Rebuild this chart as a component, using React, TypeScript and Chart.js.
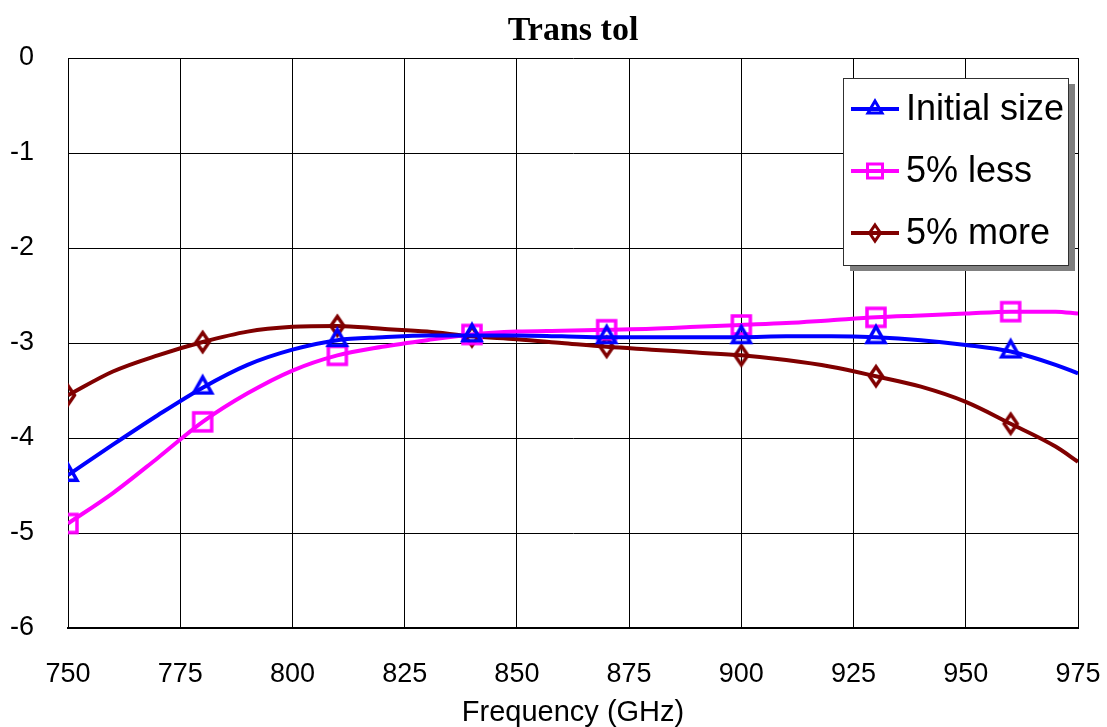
import React, { useEffect, useRef } from 'react';
import { Chart, registerables } from 'chart.js';

Chart.register(...registerables);

// ---- data ----
const chartTitle = 'Trans tol';
const xAxisTitle = 'Frequency (GHz)';
const frequencies = [750, 760, 770, 780, 790, 800, 810, 820, 830, 840, 850, 860, 870, 880, 890, 900, 910, 920, 930, 940, 950, 960, 970, 975];
const markerFrequencies = [750, 780, 810, 840, 870, 900, 930, 960];
const initialSize = [-4.39, -4.07, -3.76, -3.47, -3.23, -3.07, -2.97, -2.94, -2.92, -2.92, -2.92, -2.93, -2.94, -2.94, -2.94, -2.94, -2.93, -2.93, -2.94, -2.97, -3.02, -3.09, -3.23, -3.32];
const fiveLess = [-4.90, -4.58, -4.21, -3.83, -3.53, -3.29, -3.13, -3.04, -2.97, -2.91, -2.88, -2.87, -2.86, -2.85, -2.83, -2.81, -2.79, -2.76, -2.73, -2.71, -2.69, -2.67, -2.67, -2.69];
const fiveMore = [-3.55, -3.30, -3.13, -2.99, -2.88, -2.83, -2.82, -2.85, -2.88, -2.93, -2.96, -3.00, -3.04, -3.07, -3.10, -3.13, -3.18, -3.25, -3.35, -3.46, -3.62, -3.85, -4.09, -4.25];
const seriesNames = ['Initial size', '5% less', '5% more'];
const seriesValues = [initialSize, fiveLess, fiveMore];
const seriesColors = ['#0000ff', '#ff00ff', '#800000'];
const seriesShapes = ['triangle', 'square', 'diamond'];
const xMin = 750;
const xMax = 975;
const xStep = 25;
const yMin = -6;
const yMax = 0;
const yStep = 1;

type Shape = 'triangle' | 'square' | 'diamond';

function makeMarker(shape: Shape, color: string, w: number, h: number, lw: number): HTMLCanvasElement {
  const pad = Math.ceil(lw) + 2;
  const c = document.createElement('canvas');
  let W = Math.ceil(w + 2 * pad);
  let H: number;
  if (shape === 'triangle') {
    H = Math.ceil((4 * h) / 3 + 2 * pad);
  } else {
    H = Math.ceil(h + 2 * pad);
  }
  if (W % 2) W++;
  if (H % 2) H++;
  c.width = W;
  c.height = H;
  const ctx = c.getContext('2d')!;
  ctx.strokeStyle = color;
  ctx.lineWidth = lw;
  ctx.lineJoin = 'miter';
  const cx = W / 2;
  const cy = H / 2;
  ctx.beginPath();
  if (shape === 'triangle') {
    const apex = cy - (2 * h) / 3;
    const base = cy + h / 3;
    ctx.moveTo(cx, apex);
    ctx.lineTo(cx + w / 2, base);
    ctx.lineTo(cx - w / 2, base);
    ctx.closePath();
  } else if (shape === 'square') {
    ctx.rect(cx - w / 2, cy - h / 2, w, h);
  } else {
    ctx.moveTo(cx, cy - h / 2);
    ctx.lineTo(cx + w / 2, cy);
    ctx.lineTo(cx, cy + h / 2);
    ctx.lineTo(cx - w / 2, cy);
    ctx.closePath();
  }
  ctx.stroke();
  return c;
}

const plotMarkerSize: Record<Shape, [number, number]> = {
  triangle: [18, 16],
  square: [18, 18],
  diamond: [13, 19],
};
const legendMarkerSize: Record<Shape, [number, number]> = {
  triangle: [14, 12],
  square: [15, 14],
  diamond: [11, 16],
};

export default function App() {
  const canvasRef = useRef<HTMLCanvasElement | null>(null);

  useEffect(() => {
    document.body.style.margin = '0';
    const canvas = canvasRef.current;
    if (!canvas) return;

    const plotMarkers = seriesShapes.map((s, i) =>
      makeMarker(s as Shape, seriesColors[i], plotMarkerSize[s as Shape][0], plotMarkerSize[s as Shape][1], 3.5)
    );
    const legendMarkers = seriesShapes.map((s, i) =>
      makeMarker(s as Shape, seriesColors[i], legendMarkerSize[s as Shape][0], legendMarkerSize[s as Shape][1], 3)
    );

    const decorPlugin = {
      id: 'decor',
      afterDraw(chart: any) {
        const ctx = chart.ctx as CanvasRenderingContext2D;
        const area = chart.chartArea;
        ctx.save();
        // Title
        ctx.fillStyle = '#000';
        ctx.font = 'bold 34px "Liberation Serif", "Times New Roman", serif';
        ctx.textAlign = 'center';
        ctx.textBaseline = 'alphabetic';
        ctx.fillText(chartTitle, (area.left + area.right) / 2, 40);
        // X axis title
        ctx.font = '29px "Liberation Sans", Arial, sans-serif';
        ctx.fillText(xAxisTitle, (area.left + area.right) / 2, 721);

        // Legend
        const bx = 843;
        const by = 78;
        const bw = 225;
        const bh = 187;
        ctx.fillStyle = '#808080';
        ctx.fillRect(bx + 7, by + 6, bw, bh);
        ctx.fillStyle = '#ffffff';
        ctx.fillRect(bx, by, bw, bh);
        ctx.strokeStyle = '#303030';
        ctx.lineWidth = 1;
        ctx.strokeRect(bx + 0.5, by + 0.5, bw, bh);
        const rows = [109, 171, 233];
        seriesNames.forEach((name, i) => {
          const y = rows[i];
          ctx.strokeStyle = seriesColors[i];
          ctx.lineWidth = 4;
          ctx.beginPath();
          ctx.moveTo(851, y);
          ctx.lineTo(899, y);
          ctx.stroke();
          const m = legendMarkers[i];
          ctx.drawImage(m, Math.round(875 - m.width / 2), Math.round(y - m.height / 2));
          ctx.fillStyle = '#000';
          ctx.font = '36px "Liberation Sans", Arial, sans-serif';
          ctx.textAlign = 'left';
          ctx.textBaseline = 'middle';
          ctx.fillText(name, 906, y + 1);
        });
        ctx.restore();
      },
    };

    const datasets = seriesNames.map((name, i) => ({
      label: name,
      data: frequencies.map((f, j) => ({ x: f, y: seriesValues[i][j] })),
      borderColor: seriesColors[i],
      backgroundColor: seriesColors[i],
      borderWidth: 4,
      fill: false,
      cubicInterpolationMode: 'monotone' as const,
      pointStyle: plotMarkers[i],
      pointRadius: (c: any) => (markerFrequencies.includes(frequencies[c.dataIndex]) ? 8 : 0),
      pointHoverRadius: 0,
    }));

    const chart = new Chart(canvas, {
      type: 'line',
      data: { datasets },
      plugins: [decorPlugin],
      options: {
        animation: false,
        responsive: false,
        events: [],
        layout: { padding: { left: 0, right: 29, top: 58, bottom: 0 } },
        plugins: {
          legend: { display: false },
          title: { display: false },
          tooltip: { enabled: false },
        },
        scales: {
          x: {
            type: 'linear',
            min: xMin,
            max: xMax,
            ticks: {
              stepSize: xStep,
              color: '#000',
              padding: 30,
              font: { size: 27, family: '"Liberation Sans", Arial, sans-serif' },
            },
            grid: { color: '#000', lineWidth: 1, drawTicks: false },
            border: { display: true, color: '#000', width: 2 },
            afterFit: (scale: any) => {
              scale.height = 99;
              scale.paddingLeft = 0;
              scale.paddingRight = 0;
            },
          },
          y: {
            type: 'linear',
            min: yMin,
            max: yMax,
            ticks: {
              stepSize: yStep,
              color: '#000',
              padding: 34,
              font: { size: 27, family: '"Liberation Sans", Arial, sans-serif' },
            },
            grid: { color: '#000', lineWidth: 1, drawTicks: false },
            border: { display: true, color: '#000', width: 1 },
            afterFit: (scale: any) => {
              scale.width = 68;
              scale.paddingTop = 0;
              scale.paddingBottom = 0;
            },
          },
        },
      },
    });

    return () => {
      chart.destroy();
    };
  }, []);

  return (
    <div style={{ position: 'absolute', left: 0, top: 0, width: 1107, height: 727, background: '#fff' }}>
      <canvas ref={canvasRef} width={1107} height={727} style={{ display: 'block' }} />
    </div>
  );
}
